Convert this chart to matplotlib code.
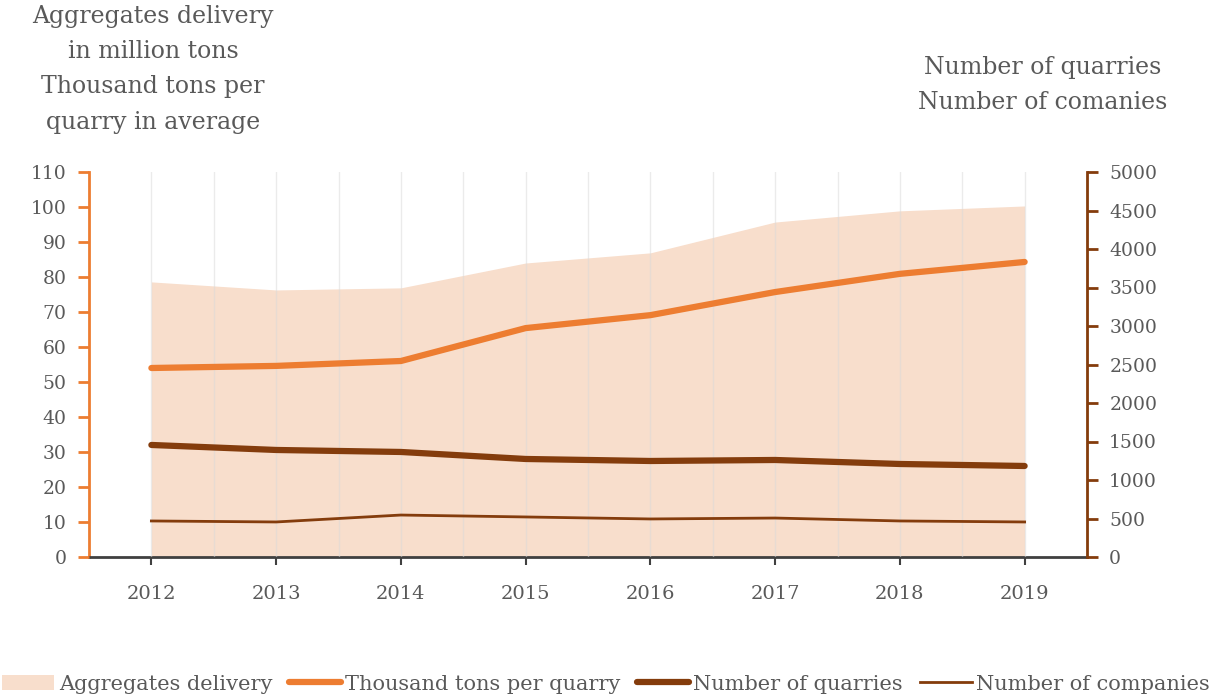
import matplotlib as mpl
mpl.use("Agg")
import matplotlib.pyplot as plt
import numpy as np

years = [2012, 2013, 2014, 2015, 2016, 2017, 2018, 2019]
delivery = [78.6, 76.3, 76.9, 84.0, 86.9, 95.7, 98.9, 100.3]
tons_per_quarry = [54.0, 54.6, 56.0, 65.4, 69.1, 75.7, 80.9, 84.3]
num_quarries = [1455, 1390, 1364, 1273, 1247, 1260, 1208, 1182]
num_companies = [468, 455, 545, 520, 494, 506, 468, 455]

orange = '#ED7D31'
brown = '#843C0C'
fill_col = '#F8DECC'
txt = '#595959'

plt.rcParams['font.family'] = ['DejaVu Serif']
plt.rcParams['font.size'] = 13.5

fig = plt.figure(figsize=(12.12, 7.0), dpi=100)
ax = fig.add_axes([89 / 1212, 1 - 557 / 700, (1087 - 89) / 1212, (557 - 172) / 700])
ax2 = ax.twinx()

ax.fill_between(years, delivery, 0, color=fill_col, lw=0, label='Aggregates delivery', zorder=1)
ax.plot(years, tons_per_quarry, color=orange, lw=4.5, solid_capstyle='round',
        label='Thousand tons per quarry', zorder=3)
ax2.plot(years, num_quarries, color=brown, lw=4.5, solid_capstyle='round',
         label='Number of quarries', zorder=3)
ax2.plot(years, num_companies, color=brown, lw=2, label='Number of companies', zorder=3)

ax.set_xlim(2011.5, 2019.5)
ax.set_ylim(0, 110)
ax2.set_ylim(0, 5000)
ax.set_yticks(np.arange(0, 111, 10))
ax2.set_yticks(np.arange(0, 5001, 500))
ax.set_xticks(years)
ax.set_xticks(np.arange(2012.5, 2019, 1), minor=True)
ax.xaxis.grid(True, which='both', color='#D9D9D9', lw=1, alpha=0.5, zorder=2)
ax.set_axisbelow(False)

for a in (ax, ax2):
    a.spines['top'].set_visible(False)
ax.spines['right'].set_visible(False)
ax2.spines['left'].set_visible(False)
ax2.spines['bottom'].set_visible(False)
ax.spines['left'].set_color(orange)
ax.spines['left'].set_linewidth(2)
ax2.spines['right'].set_color(brown)
ax2.spines['right'].set_linewidth(2)
ax.spines['bottom'].set_color('#404040')
ax.spines['bottom'].set_linewidth(2)

ax.tick_params(axis='y', colors=orange, labelcolor=txt, length=8, width=2, direction='out', pad=8)
ax2.tick_params(axis='y', colors=brown, labelcolor=txt, length=8, width=2, direction='out', pad=8)
ax.tick_params(axis='x', which='major', colors='#404040', labelcolor=txt, length=6, width=1.5, pad=14,
               labelsize=14)
ax.tick_params(axis='x', which='minor', length=0)

fig.text(153 / 1212, 1 - 5 / 700, 'Aggregates delivery\nin million tons\nThousand tons per\nquarry in average',
         ha='center', va='top', fontsize=17, color=txt, linespacing=1.68)
fig.text(1043 / 1212, 1 - 56 / 700, 'Number of quarries\nNumber of comanies',
         ha='center', va='top', fontsize=17, color=txt, linespacing=1.68)

h1, l1 = ax.get_legend_handles_labels()
h2, l2 = ax2.get_legend_handles_labels()
fig.legend(h1 + h2, l1 + l2, loc='center', bbox_to_anchor=(0.5, 1 - 684 / 700), ncol=4,
           frameon=False, fontsize=15, labelcolor=txt, handlelength=2.5,
           handletextpad=0.2, columnspacing=0.8)

plt.savefig('out.png', dpi=100)
